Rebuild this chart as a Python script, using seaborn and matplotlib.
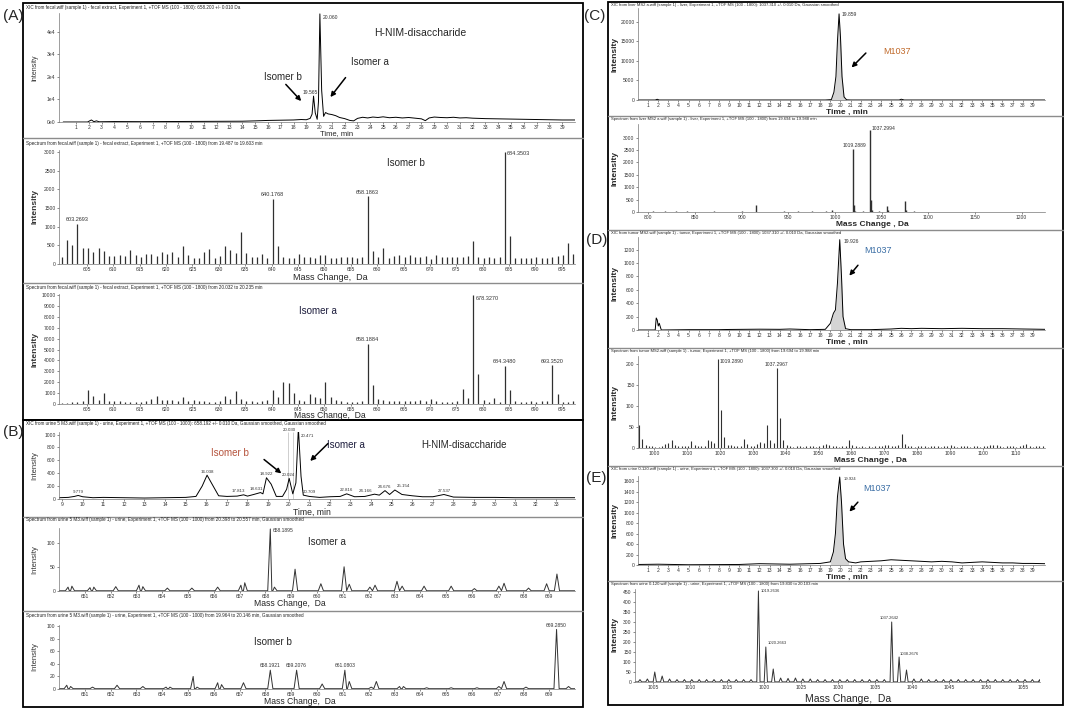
import numpy as np
import pandas as pd
import matplotlib
matplotlib.use("Agg")
import matplotlib.pyplot as plt
import seaborn as sns
from matplotlib.patches import Rectangle
from matplotlib.lines import Line2D

W, H = 1065, 711

# ---------------------------
# Data
# ---------------------------
# (A) fecal XIC 658.200
a1_time = [0.0, 1.9, 2.2, 2.4, 2.6, 2.8, 4.0, 6.0, 8.0, 10.0, 12.0, 14.0, 15.0, 16.0, 17.0, 18.0, 18.6, 19.0,
           19.3, 19.45, 19.565, 19.7, 19.85, 19.95, 20.06, 20.2, 20.35, 20.5, 20.7, 21.0, 21.3, 21.6, 22.0,
           22.4, 22.7, 23.0, 23.4, 23.8, 24.2, 24.6, 25.0, 25.5, 26.0, 26.5, 27.0, 27.5, 28.0, 28.3, 28.6,
           29.0, 29.5, 30.0, 30.5, 31.0, 31.5, 32.0, 32.5, 33.0, 34.0, 35.0, 36.0, 37.0, 38.0, 39.0, 40.0]
a1_int = [0, 0, 900, 150, 500, 100, 200, 150, 200, 250, 300, 350, 500, 700, 800, 900, 1100, 1000,
          1600, 3500, 11500, 4000, 1200, 9000, 48000, 14000, 2500, 4200, 3600, 3300, 2800, 2000, 1500,
          700, 500, 1600, 2100, 1800, 2200, 2000, 2300, 1900, 2100, 1800, 2000, 1700, 1400, 600, 1800,
          2200, 2000, 1900, 2100, 1800, 1900, 1700, 1600, 1500, 1400, 1300, 1200, 1100, 1000, 900, 900]

# (A) spectra, one value per nominal mass starting at 600
a_mz_start = 600
a2_h = [200, 640, 500, 1080, 430, 440, 330, 440, 340, 220,
        220, 250, 210, 370, 230, 190, 260, 260, 210, 320,
        270, 330, 200, 470, 230, 160, 160, 330, 400, 150,
        210, 470, 380, 300, 860, 300, 200, 180, 280, 150,
        1750, 480, 200, 170, 150, 270, 190, 200, 170, 230,
        240, 150, 170, 180, 200, 190, 170, 190, 1820, 360,
        190, 420, 160, 220, 230, 180, 230, 200, 200, 210,
        140, 250, 180, 180, 190, 200, 200, 210, 620, 180,
        170, 180, 170, 200, 3000, 740, 150, 160, 170, 170,
        180, 160, 170, 200, 220, 250, 560, 260]
a3_h = [100, 100, 150, 200, 250, 1300, 750, 350, 1000, 250,
        250, 300, 200, 200, 150, 200, 300, 450, 700, 400,
        350, 400, 300, 600, 300, 350, 250, 250, 200, 200,
        300, 700, 500, 1200, 450, 300, 250, 200, 300, 350,
        1300, 600, 2000, 1950, 1000, 350, 300, 950, 650, 550,
        2000, 650, 350, 250, 200, 200, 200, 300, 5500, 1700,
        500, 350, 300, 300, 250, 250, 300, 250, 350, 250,
        450, 250, 200, 200, 200, 300, 1400, 550, 10000, 2800,
        350, 200, 550, 200, 3500, 1300, 250, 200, 200, 250,
        200, 250, 300, 3550, 950, 200, 200, 250]
a2_labels = [(603, "603.2693"), (640, "640.1768"), (658, "658.1863")]
a3_labels = [(658, "658.1884"), (684, "684.3480"), (693, "693.3520")]

# (B) urine XIC 658.192
b1_time = [8.85, 9.3, 9.6, 9.779, 10.0, 10.5, 11.0, 12.0, 13.0, 14.0, 15.0, 15.5, 15.8, 16.038, 16.3,
           16.6, 17.0, 17.5, 17.813, 18.0, 18.3, 18.631, 18.75, 18.922, 19.15, 19.4, 19.7, 19.9, 20.024,
           20.2, 20.35, 20.471, 20.6, 20.709, 21.0, 21.5, 22.0, 22.5, 22.816, 23.2, 23.7, 24.166, 24.4,
           24.676, 24.9, 25.154, 25.5, 26.0, 26.5, 27.0, 27.537, 28.0, 29.0, 30.0, 31.0, 32.0, 33.0, 33.9]
b1_int = [20, 25, 40, 55, 35, 20, 25, 20, 15, 20, 25, 40, 200, 370, 220,
          50, 40, 45, 65, 45, 70, 100, 80, 330, 230, 40, 40, 150, 320,
          80, 250, 1100, 350, 60, 40, 25, 35, 40, 80, 35, 40, 75, 60,
          130, 70, 140, 70, 50, 35, 35, 70, 30, 25, 25, 20, 20, 20, 20]
# (label x, label y, text) for the small retention-time labels
b1_labels = [(9.779, 80, "9.779"), (16.038, 395, "16.038"), (17.55, 90, "17.813"), (18.45, 125, "18.631"),
             (18.922, 355, "18.922"), (20.0, 345, "20.024"), (22.816, 105, "22.816"), (23.75, 100, "24.166"),
             (24.65, 155, "24.676"), (25.55, 165, "25.154"), (27.537, 95, "27.537")]

b2_mz = [650.35, 650.5, 651.2, 651.35, 652.2, 653.1, 653.25, 654.2, 655.15, 656.15,
         657.05, 657.2, 658.19, 658.35, 659.15, 660.15, 661.05, 661.25, 662.05, 662.25,
         663.1, 663.3, 664.15, 665.2, 666.1, 667.05, 667.25, 668.2, 668.9, 669.3]
b2_h = [8, 10, 7, 8, 9, 12, 9, 6, 6, 8,
        12, 17, 128, 8, 45, 15, 50, 14, 8, 12,
        20, 10, 10, 10, 5, 10, 16, 6, 15, 35]
b3_mz = [650.3, 650.45, 651.3, 652.25, 653.25, 654.15, 654.3, 655.2, 655.35, 656.15,
         656.3, 657.15, 658.19, 659.21, 660.2, 661.08, 661.25, 662.1, 662.3, 663.2,
         663.35, 664.25, 665.2, 666.2, 667.05, 667.25, 668.1, 669.285, 669.75]
b3_h = [6, 4, 3, 6, 4, 3, 3, 20, 3, 10,
        7, 10, 30, 30, 8, 30, 12, 3, 12, 4,
        4, 2, 2, 2, 4, 12, 3, 95, 4]

# (C) liver
c1_time = [0.0, 1.7, 1.9, 2.1, 5.0, 10.0, 15.0, 18.5, 19.1, 19.35, 19.55, 19.7, 19.859, 20.0, 20.15,
           20.35, 20.6, 21.0, 25.0, 25.8, 26.0, 26.3, 30.0, 35.0, 40.2]
c1_int = [0, 0, 180, 0, 0, 0, 0, 0, 100, 2000, 6000, 15000, 22000, 16000, 6000,
          800, 50, 0, 0, 0, 200, 0, 0, 0, 0]
c2_mz = [795, 805, 818, 830, 842, 855, 870, 885, 900, 915.3,
         930, 945, 960, 975, 990, 997, 1008, 1019.29, 1020.3, 1021.3,
         1030, 1037.30, 1038.3, 1039.3, 1047, 1055.3, 1056.3, 1065, 1075.3, 1076.3,
         1085, 1095, 1110, 1130, 1150, 1175, 1200]
c2_h = [20, 25, 30, 60, 25, 20, 40, 20, 25, 300,
        20, 25, 30, 35, 25, 80, 20, 2550, 300, 60,
        25, 3300, 500, 90, 30, 230, 70, 20, 430, 100,
        25, 20, 20, 20, 15, 15, 15]

# (D) tumor
d1_time = [0.0, 1.7, 1.8, 1.9, 2.0, 2.1, 2.3, 5.0, 8.0, 9.0, 12.0, 14.0, 15.0, 17.0, 18.5, 19.0, 19.3,
           19.5, 19.7, 19.926, 20.1, 20.25, 20.5, 21.0, 23.0, 25.0, 26.0, 27.0, 28.0, 30.0, 32.0, 34.0,
           36.0, 38.0, 40.2]
d1_int = [0, 0, 180, 150, 60, 100, 0, 5, 5, 8, 12, 10, 15, 5, 10, 100, 250,
          300, 700, 1350, 800, 200, 20, 5, 5, 15, 25, 20, 25, 20, 25, 20,
          20, 15, 10]
d2_mz_start = 995
d2_h = [55, 22, 8, 5, 4, 3, 3, 4, 10, 12,
        20, 8, 5, 4, 4, 4, 17, 8, 4, 4,
        4, 18, 16, 12, 210, 90, 27, 8, 6, 5,
        5, 5, 22, 10, 4, 5, 10, 15, 12, 55,
        18, 12, 190, 72, 20, 6, 4, 3, 5, 4,
        3, 4, 5, 4, 3, 4, 8, 10, 6, 4,
        4, 3, 4, 5, 18, 6, 4, 3, 4, 3,
        4, 3, 5, 4, 4, 6, 8, 5, 4, 6,
        33, 10, 5, 4, 3, 4, 5, 4, 3, 4,
        5, 4, 3, 4, 5, 6, 4, 3, 4, 5,
        4, 3, 5, 4, 3, 4, 5, 6, 8, 7,
        4, 3, 4, 5, 4, 3, 4, 6, 9, 4,
        3, 4, 5, 4, 3]

# (E) urine 0-120
e1_time = [0.0, 2.0, 5.0, 10.0, 12.0, 15.0, 18.0, 19.0, 19.3, 19.5, 19.7, 19.924, 20.1, 20.3, 20.5, 20.8,
           21.5, 22.0, 23.0, 24.0, 25.0, 26.0, 27.0, 28.0, 29.0, 30.0, 31.0, 32.0, 33.0, 34.0, 35.0, 36.0,
           37.0, 38.0, 39.0, 40.2]
e1_int = [10, 15, 5, 10, 25, 15, 30, 60, 250, 600, 1300, 1680, 1200, 400, 120, 60,
          40, 60, 70, 80, 100, 90, 80, 70, 60, 70, 60, 40, 50, 60, 50, 40,
          40, 30, 30, 25]
e2_mz_start = 1003
e2_h = [12, 15, 50, 30, 15, 12, 12, 12, 12, 12,
        12, 12, 12, 12, 12, 12, 455, 175, 65, 20,
        18, 20, 15, 15, 12, 12, 12, 12, 12, 12,
        12, 12, 12, 12, 300, 125, 60, 15, 15, 12,
        12, 12, 12, 12, 12, 12, 12, 12, 12, 12,
        12, 12, 12, 12, 12]

# ---------------------------
# Style
# ---------------------------
sns.set_style("ticks")
plt.rcParams['font.family'] = ['Liberation Sans', 'DejaVu Sans']

fig = plt.figure(figsize=(W / 100, H / 100), dpi=100)
fig.patch.set_facecolor("white")

STICK = "#303030"


def px_axes(x0, x1, y0, y1):
    return fig.add_axes([x0 / W, 1 - y1 / H, (x1 - x0) / W, (y1 - y0) / H])


def ftext(x, y, s, **kw):
    kw.setdefault("va", "center")
    fig.text(x / W, 1 - y / H, s, **kw)


def style(ax, xlim, ylim, xticks, yticks, yticklabels=None):
    ax.set_xlim(*xlim)
    ax.set_ylim(*ylim)
    ax.set_xticks(xticks)
    ax.set_yticks(yticks)
    if yticklabels is not None:
        ax.set_yticklabels(yticklabels)
    ax.tick_params(labelsize=3.6, length=1.5, width=0.4, pad=1.0, colors="#333333")
    for s in ["top", "right"]:
        ax.spines[s].set_visible(False)
    for s in ["left", "bottom"]:
        ax.spines[s].set_linewidth(0.5)
        ax.spines[s].set_color("#777777")
    ax.set_xlabel("")
    ax.set_ylabel("")
    ax.patch.set_alpha(0)


def chrom(ax, t, y, fill=None):
    df = pd.DataFrame({"t": t, "y": y})
    sns.lineplot(data=df, x="t", y="y", ax=ax, color="black", lw=0.7, estimator=None, sort=False)
    if fill is not None:
        sub = df[(df.t >= fill[0]) & (df.t <= fill[1])]
        ax.fill_between(sub.t, 0, sub.y, color="#d4d4d4", lw=0)


def sticks(ax, mz, h, lw=0.9):
    ax.vlines(mz, 0, h, color=STICK, lw=lw)


def profile(ax, mz, h, half, xlim):
    pts = [(xlim[0], 0.5), (xlim[1], 0.5)]
    for m, v in zip(mz, h):
        pts += [(m - half, 0.5), (m, v), (m + half, 0.5)]
    df = pd.DataFrame(sorted(pts), columns=["m", "v"])
    sns.lineplot(data=df, x="m", y="v", ax=ax, color="#333333", lw=0.7, estimator=None, sort=False)


def arrow(ax, tail, head):
    ax.annotate("", xy=head, xytext=tail,
                arrowprops=dict(arrowstyle="-|>", color="black", lw=1.1, mutation_scale=7))


def small(ax, x, y, s, ha="center", fs=3.6):
    ax.text(x, y, s, ha=ha, va="bottom", fontsize=fs, color="#333333", clip_on=False)


# ---------------------------
# Panel (A)
# ---------------------------
ax = px_axes(59, 575, 13, 122)
chrom(ax, a1_time, a1_int)
style(ax, (-0.33, 40.0), (0, 48400), range(1, 40), [0, 10000, 20000, 30000, 40000],
      ["0e0", "1e4", "2e4", "3e4", "4e4"])
small(ax, 20.3, 45500, "20.060", ha="left")
small(ax, 19.3, 12000, "19.565")
ax.text(27.9, 39600, "H-NIM-disaccharide", fontsize=7.5, ha="center", va="center")
ax.text(24.0, 26800, "Isomer a", fontsize=7, ha="center", va="center")
ax.text(17.2, 19800, "Isomer b", fontsize=7, ha="center", va="center")
arrow(ax, (17.25, 17600), (18.75, 8400))
arrow(ax, (22.2, 20700), (20.75, 10100))

a_mz = a_mz_start + np.arange(len(a2_h)) + 0.2
ax = px_axes(59, 575, 150, 264)
sticks(ax, a_mz, a2_h)
style(ax, (599.7, 697.5), (0, 3060), range(605, 697, 5), range(0, 3001, 500))
for m, s in a2_labels:
    small(ax, m + 0.2, a2_h[m - a_mz_start] + 40, s, fs=4)
small(ax, 684.6, 2900, "684.3503", ha="left", fs=4)
ax.text(665.5, 2710, "Isomer b", fontsize=7, ha="center", va="center")

ax = px_axes(59, 575, 294, 404)
sticks(ax, a_mz, a3_h)
style(ax, (599.7, 697.5), (0, 10100), range(605, 697, 5), range(0, 10001, 1000))
for m, s in a3_labels:
    small(ax, m + 0.2, a3_h[m - a_mz_start] + 150, s, fs=4)
small(ax, 678.6, 9500, "678.3270", ha="left", fs=4)
ax.text(648.7, 8500, "Isomer a", fontsize=7, ha="center", va="center", color="#1c1c3c")

# ---------------------------
# Panel (B)
# ---------------------------
ax = px_axes(59, 575, 432, 499)
ax.vlines([19.98, 20.2], 0, 1040, color="#bbbbbb", lw=0.5)
chrom(ax, b1_time, b1_int)
style(ax, (8.85, 33.9), (0, 1040), range(9, 34), range(0, 1001, 200))
for t, v, s in b1_labels:
    small(ax, t, v, s, fs=3.2)
small(ax, 20.05, 1045, "20.030", fs=3.2)
small(ax, 20.6, 950, "20.471", ha="left", fs=3.2)
small(ax, 21.0, 75, "20.709", fs=3.2)
ax.text(17.15, 720, "Isomer b", fontsize=7, ha="center", va="center", color="#b5533c")
ax.text(22.8, 840, "Isomer a", fontsize=7, ha="center", va="center", color="#1c1c3c")
ax.text(28.5, 840, "H-NIM-disaccharide", fontsize=7, ha="center", va="center")
arrow(ax, (18.7, 640), (19.75, 370))
arrow(ax, (22.0, 890), (20.95, 560))

ax = px_axes(59, 575, 528, 591)
profile(ax, b2_mz, b2_h, 0.1, (650.0, 670.0))
style(ax, (650.0, 670.0), (0, 130), range(651, 670), [0, 50, 100])
small(ax, 658.3, 120, "658.1895", ha="left")
ax.text(660.4, 101, "Isomer a", fontsize=7, ha="center", va="center")

ax = px_axes(59, 575, 625, 689)
profile(ax, b3_mz, b3_h, 0.1, (650.0, 670.0))
style(ax, (650.0, 670.0), (0, 102), range(651, 670), range(0, 101, 20))
for m, v, s in [(658.19, 30, "658.1921"), (659.21, 30, "659.2076"), (661.08, 30, "661.0803"), (669.285, 95, "669.2850")]:
    small(ax, m, v + 3, s)
ax.text(658.3, 75, "Isomer b", fontsize=7, ha="center", va="center")

# ---------------------------
# Panels (C), (D), (E)
# ---------------------------
ax = px_axes(638, 1045, 8, 100)
chrom(ax, c1_time, c1_int, fill=(19.1, 20.6))
style(ax, (0, 40.2), (0, 23500), range(1, 40), range(0, 20001, 5000))
small(ax, 20.15, 21300, "19.859", ha="left")
ax.text(25.6, 12500, "M1037", fontsize=6.5, ha="center", va="center", color="#c06a2b")
arrow(ax, (22.7, 12500), (20.9, 7800))

ax = px_axes(638, 1045, 124, 212)
sticks(ax, c2_mz, c2_h, lw=1.0)
style(ax, (789, 1225), (0, 3550), range(800, 1201, 50), range(0, 3001, 500))
small(ax, 1021, 2600, "1019.2889")
small(ax, 1039.5, 3250, "1037.2994", ha="left")

ax = px_axes(638, 1045, 237, 330)
chrom(ax, d1_time, d1_int, fill=(19.0, 20.5))
style(ax, (0, 40.2), (0, 1390), range(1, 40), range(0, 1201, 200))
small(ax, 20.3, 1290, "19.926", ha="left")
ax.text(23.7, 1190, "M1037", fontsize=6.5, ha="center", va="center", color="#3b6ea5")
arrow(ax, (21.9, 1000), (20.7, 780))

d2_mz = d2_mz_start + np.arange(len(d2_h)) + 0.29
ax = px_axes(638, 1045, 356, 448)
sticks(ax, d2_mz, d2_h, lw=0.8)
style(ax, (995, 1119), (0, 218), range(1000, 1111, 10), range(0, 201, 50))
small(ax, 1019.8, 200, "1019.2890", ha="left")
small(ax, 1037.3, 193, "1037.2967")

ax = px_axes(638, 1045, 476, 565)
chrom(ax, e1_time, e1_int, fill=(19.0, 20.8))
style(ax, (0, 40.2), (0, 1700), range(1, 40), range(0, 1601, 200))
small(ax, 20.3, 1600, "19.924", ha="left", fs=3)
ax.text(23.6, 1460, "M1037", fontsize=6.5, ha="center", va="center", color="#3b6ea5")
arrow(ax, (21.9, 1240), (20.7, 980))

e2_mz = e2_mz_start + np.arange(len(e2_h)) + 0.27
ax = px_axes(635, 1040, 589, 682)
profile(ax, e2_mz, e2_h, 0.22, (1002.6, 1057.3))
style(ax, (1002.6, 1057.3), (0, 465), range(1005, 1056, 5), range(0, 451, 50))
small(ax, 1019.6, 445, "1019.2636", ha="left", fs=3)
small(ax, 1020.5, 185, "1020.2663", ha="left", fs=3)
small(ax, 1037.0, 310, "1037.2642", fs=3)
small(ax, 1038.4, 130, "1038.2676", ha="left", fs=3)

# ---------------------------
# Titles, axis labels, frames
# ---------------------------
left_titles = [
    (7, "XIC from fecal.wiff (sample 1) - fecal extract, Experiment 1, +TOF MS (100 - 1800): 658.200 +/- 0.010 Da"),
    (144, "Spectrum from fecal.wiff (sample 1) - fecal extract, Experiment 1, +TOF MS (100 - 1800) from 19.487 to 19.603 min"),
    (288, "Spectrum from fecal.wiff (sample 1) - fecal extract, Experiment 1, +TOF MS (100 - 1800) from 20.032 to 20.235 min"),
    (424, "XIC from urine 5 M3.wiff (sample 1) - urine, Experiment 1, +TOF MS (100 - 1000): 658.192 +/- 0.010 Da, Gaussian smoothed, Gaussian smoothed"),
    (520, "Spectrum from urine 5 M3.wiff (sample 1) - urine, Experiment 1, +TOF MS (100 - 1000) from 20.398 to 20.557 min, Gaussian smoothed"),
    (615, "Spectrum from urine 5 M3.wiff (sample 1) - urine, Experiment 1, +TOF MS (100 - 1000) from 19.964 to 20.146 min, Gaussian smoothed"),
]
right_titles = [
    (5, "XIC from liver MS2 a.wiff (sample 1) - liver, Experiment 1, +TOF MS (100 - 1800): 1037.310 +/- 0.010 Da, Gaussian smoothed"),
    (119, "Spectrum from liver MS2 a.wiff (sample 1) - liver, Experiment 1, +TOF MS (100 - 1800) from 19.694 to 19.988 min"),
    (233, "XIC from tumor MS2.wiff (sample 1) - tumor, Experiment 1, +TOF MS (100 - 1800): 1037.310 +/- 0.010 Da, Gaussian smoothed"),
    (351, "Spectrum from tumor MS2.wiff (sample 1) - tumor, Experiment 1, +TOF MS (100 - 1800) from 19.694 to 19.988 min"),
    (469, "XIC from urine 0-120.wiff (sample 1) - urine, Experiment 1, +TOF MS (100 - 1800): 1037.300 +/- 0.010 Da, Gaussian smoothed"),
    (584, "Spectrum from urine 0-120.wiff (sample 1) - urine, Experiment 1, +TOF MS (100 - 1800) from 19.830 to 20.103 min"),
]
for y, s in left_titles:
    ftext(26, y, s, fontsize=3.3, color="#222222")
for y, s in right_titles:
    ftext(611, y, s, fontsize=3.0, color="#222222")

# x axis labels
ftext(337, 134, "Time, min", fontsize=5.5, ha="center")
ftext(330, 277, "Mass Change,  Da", fontsize=6.5, ha="center")
ftext(330, 416, "Mass Change,  Da", fontsize=6.2, ha="center")
ftext(312, 512, "Time, min", fontsize=6.2, ha="center")
ftext(290, 604, "Mass Change,  Da", fontsize=6.2, ha="center")
ftext(300, 702, "Mass Change,  Da", fontsize=6.2, ha="center")
ftext(847, 112, "Time , min", fontsize=6, ha="center", weight="bold")
ftext(872, 225, "Mass Change , Da", fontsize=6, ha="center", weight="bold")
ftext(847, 342, "Time , min", fontsize=6, ha="center", weight="bold")
ftext(870, 460, "Mass Change , Da", fontsize=6, ha="center", weight="bold")
ftext(847, 577, "Time , min", fontsize=6, ha="center", weight="bold")
ftext(848, 699, "Mass Change,  Da", fontsize=7.5, ha="center")

# y axis labels
for y, fs, wt in [(68, 5, "normal"), (207, 6, "bold"), (349, 6, "bold"), (466, 5.5, "normal"),
                  (560, 5.5, "normal"), (657, 5.5, "normal")]:
    ftext(35, y, "Intensity", fontsize=fs, weight=wt, rotation=90, ha="center", color="#333333")
for y in [54, 168, 284, 402, 521, 635]:
    ftext(615, y, "Intensity", fontsize=6, weight="bold", rotation=90, ha="center")

# panel letters
ftext(3, 16, "(A)", fontsize=11)
ftext(3, 432, "(B)", fontsize=11)
ftext(584, 16, "(C)", fontsize=11)
ftext(586, 240, "(D)", fontsize=11)
ftext(586, 478, "(E)", fontsize=11)


def frame(x0, x1, y0, y1):
    fig.add_artist(Rectangle((x0 / W, 1 - y1 / H), (x1 - x0) / W, (y1 - y0) / H,
                             transform=fig.transFigure, fill=False, lw=1.3, ec="black"))


def sep(x0, x1, y):
    fig.add_artist(Line2D([x0 / W, x1 / W], [1 - y / H, 1 - y / H], transform=fig.transFigure,
                          color="#8c8c8c", lw=1.0))


frame(23, 583, 3, 420)
frame(23, 583, 420, 707)
frame(608, 1063, 2, 705)
for y in [138, 283, 517, 611]:
    sep(23, 583, y)
for y in [116, 230, 348, 466, 581]:
    sep(608, 1063, y)

fig.savefig("out.png", dpi=100)
